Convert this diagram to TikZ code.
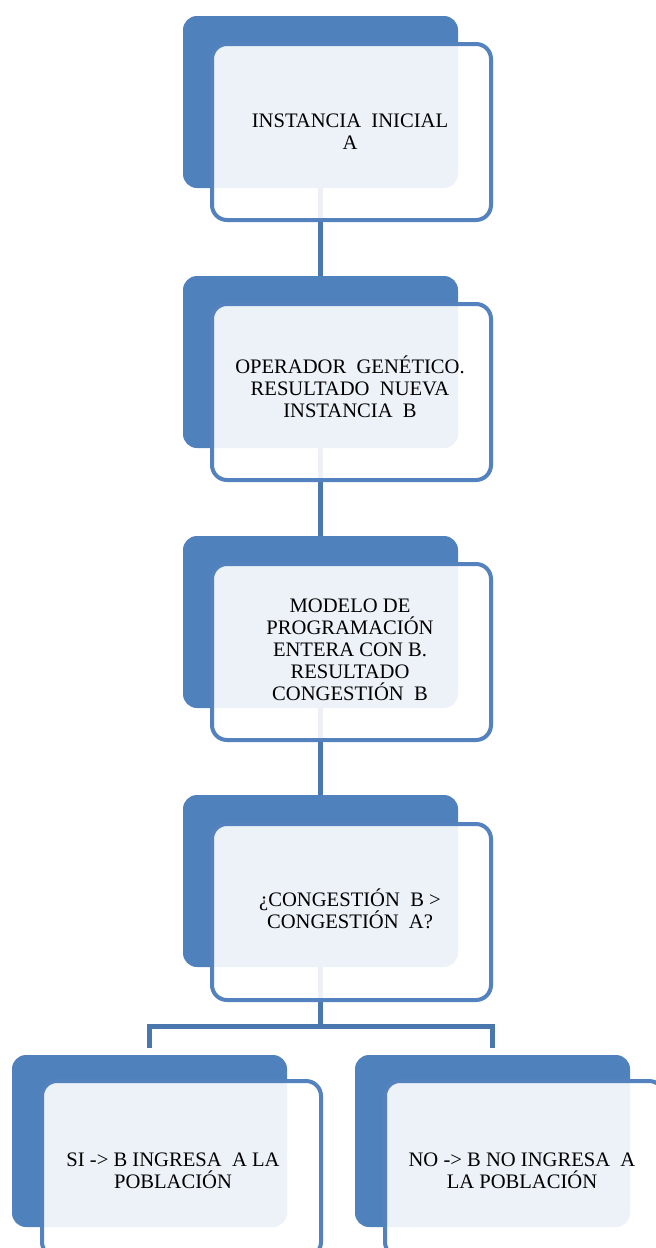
\documentclass[tikz,border=0pt]{standalone}
\usepackage{fontspec}
\setmainfont{Liberation Serif}
\definecolor{backblue}{HTML}{4F81BD}
\definecolor{frontblue}{HTML}{5382BF}
\definecolor{lineblue}{HTML}{4A78AE}
\tikzset{
  backbox/.style={rectangle, fill=backblue, draw=none, rounded corners=14pt,
    minimum width=275pt, minimum height=172pt, anchor=north west, inner sep=0pt, outer sep=0pt},
  frontbox/.style={rectangle, draw=frontblue, line width=4pt, fill=white, fill opacity=0.9,
    rounded corners=15pt, minimum width=279pt, minimum height=176pt, anchor=north west,
    inner sep=0pt, outer sep=0pt},
  txt/.style={align=center, font=\fontsize{20.6pt}{22pt}\selectfont, text=black, inner sep=0pt},
  conn/.style={draw=lineblue, line width=5pt}
}
\begin{document}
\begin{tikzpicture}[x=1pt,y=-1pt]
\clip (0,0) rectangle (656,1248);
\fill[white] (0,0) rectangle (656,1248);
% back boxes
\node[backbox] (b1) at (183,16) {};
\node[backbox] (b2) at (183,276) {};
\node[backbox] (b3) at (183,536) {};
\node[backbox] (b4) at (183,795) {};
\node[backbox] (b5) at (12,1055) {};
\node[backbox] (b6) at (355,1055) {};
% connectors
\draw[conn] (b1.south) -- (b2.north);
\draw[conn] (b2.south) -- (b3.north);
\draw[conn] (b3.south) -- (b4.north);
\coordinate (j) at (320.5,1026);
\draw[conn] (b4.south) -- (j);
\draw[conn] ([yshift=7pt]b5.north) |- (j) -| ([yshift=7pt]b6.north);
% front boxes
\node[frontbox] (f1) at (212,44) {};
\node[frontbox] (f2) at (212,304) {};
\node[frontbox] (f3) at (212,564) {};
\node[frontbox] (f4) at (212,824) {};
\node[frontbox] (f5) at (42,1081) {};
\node[frontbox] (f6) at (385,1081) {};
% texts
\node[txt] (t1) at (350,132) {INSTANCIA\ \ INICIAL\\A};
\node[txt] (t2) at (350,387) {OPERADOR\ \ GENÉTICO.\\RESULTADO\ \ NUEVA\\INSTANCIA\ \ B};
\node[txt] (t3) at (350,650) {MODELO DE\\PROGRAMACIÓN\\ENTERA CON B.\\RESULTADO\\CONGESTIÓN\ \ B};
\node[txt] (t4) at (350,909) {¿CONGESTIÓN\ \ B >\\CONGESTIÓN\ \ A?};
\node[txt] (t5) at (173,1171) {SI -> B INGRESA\ \ A LA\\POBLACIÓN};
\node[txt] (t6) at (522,1171) {NO -> B NO INGRESA\ \ A\\LA POBLACIÓN};
\end{tikzpicture}
\end{document}
